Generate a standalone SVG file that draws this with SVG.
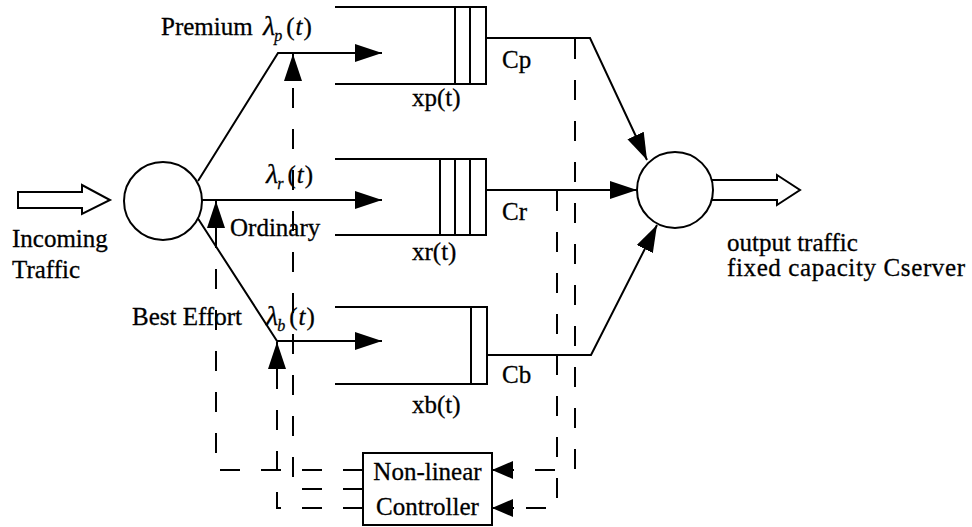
<svg xmlns="http://www.w3.org/2000/svg" width="972" height="527" viewBox="0 0 972 527">
<defs>
<marker id="ah" viewBox="0 0 27 18" refX="27" refY="9" markerWidth="27" markerHeight="18" markerUnits="userSpaceOnUse" orient="auto">
<path d="M0,0 L27,9 L0,18 z" fill="#000"/>
</marker>
<marker id="ahs" viewBox="0 0 21 18" refX="21" refY="9" markerWidth="21" markerHeight="18" markerUnits="userSpaceOnUse" orient="auto">
<path d="M0,0 L21,9 L0,18 z" fill="#000"/>
</marker>
</defs>
<style>
.ln{fill:none;stroke:#000;stroke-width:2}
.dash{fill:none;stroke:#000;stroke-width:2;stroke-dasharray:20 21}
.sh{fill:#fff;stroke:#000;stroke-width:2}
text{font-family:"Liberation Serif","Times New Roman",serif;font-size:25px;fill:#000;stroke:#000;stroke-width:0.3}
.it{font-style:italic}
.lam{font-style:italic;font-size:28px}
.sub{font-style:italic;font-size:16px}
</style>
<rect width="972" height="527" fill="#fff"/>

<g id="connectors">
<path class="ln" d="M198,181 L278,53 L382,53" marker-end="url(#ah)"/>
<path class="ln" d="M202,200 L382,200" marker-end="url(#ah)"/>
<path class="ln" d="M197,217 L277,341 L382,341" marker-end="url(#ah)"/>
<path class="ln" d="M486,38 L590,38 L647,160" marker-end="url(#ah)"/>
<path class="ln" d="M486,190 L637,190" marker-end="url(#ah)"/>
<path class="ln" d="M487,355 L591,355 L657,225" marker-end="url(#ah)"/>
<path class="dash" d="M363,489 H293 V78"/>
<path class="ln" d="M293,80 V54" marker-end="url(#ah)"/>
<path class="dash" d="M363,470 H216 V224"/>
<path class="ln" d="M216,226 V201" marker-end="url(#ah)"/>
<path class="dash" d="M363,508 H277 V357"/>
<path class="ln" d="M277,358 V342" marker-end="url(#ah)" stroke-width="0"/>
<path class="dash" d="M575,39 V470 H514"/>
<path class="ln" d="M514,470 H492" marker-end="url(#ahs)" stroke-width="0"/>
<path class="dash" d="M557,191 V508 H514"/>
<path class="ln" d="M514,508 H492" marker-end="url(#ahs)" stroke-width="0"/>
</g>

<g id="incoming">
<path class="sh" d="M18,192 H82 V185 L110,200 L82,214 V208 H18 Z"/>
<text x="12" y="247">Incoming</text>
<text x="12" y="278">Traffic</text>
</g>

<g id="classifier">
<circle class="sh" cx="163" cy="201" r="39"/>
</g>

<g id="labels">
<text x="161" y="35">Premium</text>
<text x="263" y="35"><tspan class="lam">λ</tspan><tspan class="sub" dy="6" dx="-1">p</tspan><tspan dy="-6" dx="4">(</tspan><tspan class="it" dx="1">t</tspan><tspan dx="1">)</tspan></text>
<text x="266" y="183"><tspan class="lam">λ</tspan><tspan class="sub" dy="6" dx="-1">r</tspan><tspan dy="-6" dx="4">(</tspan><tspan class="it" dx="1">t</tspan><tspan dx="1">)</tspan></text>
<text x="230" y="236">Ordinary</text>
<text x="132" y="325">Best Effort</text>
<text x="266" y="325"><tspan class="lam">λ</tspan><tspan class="sub" dy="6" dx="-1">b</tspan><tspan dy="-6" dx="4">(</tspan><tspan class="it" dx="1">t</tspan><tspan dx="1">)</tspan></text>
</g>

<g id="queue-p">
<path class="ln" d="M335,7 H486 V84 H335 M455,7 V84 M470,7 V84"/>
<text x="412" y="106">xp(t)</text>
<text x="502" y="68">Cp</text>
</g>

<g id="queue-r">
<path class="ln" d="M335,159 H486 V235 H335 M440,159 V235 M455,159 V235 M470,159 V235"/>
<text x="412" y="260">xr(t)</text>
<text x="502" y="220">Cr</text>
</g>

<g id="queue-b">
<path class="ln" d="M335,307 H487 V384 H335 M471,307 V384"/>
<text x="412" y="413">xb(t)</text>
<text x="502" y="383">Cb</text>
</g>

<g id="server">
<path class="sh" d="M711,180 H777 V175 L800,190 L777,205 V200 H711"/>
<circle class="sh" cx="675" cy="190" r="38"/>
<text x="727" y="251">output traffic</text>
<text x="727" y="276" textLength="238">fixed capacity Cserver</text>
</g>

<g id="controller">
<rect class="sh" x="363" y="453" width="129" height="72"/>
<text x="427.5" y="480" text-anchor="middle">Non-linear</text>
<text x="427.5" y="515" text-anchor="middle">Controller</text>
</g>
</svg>
